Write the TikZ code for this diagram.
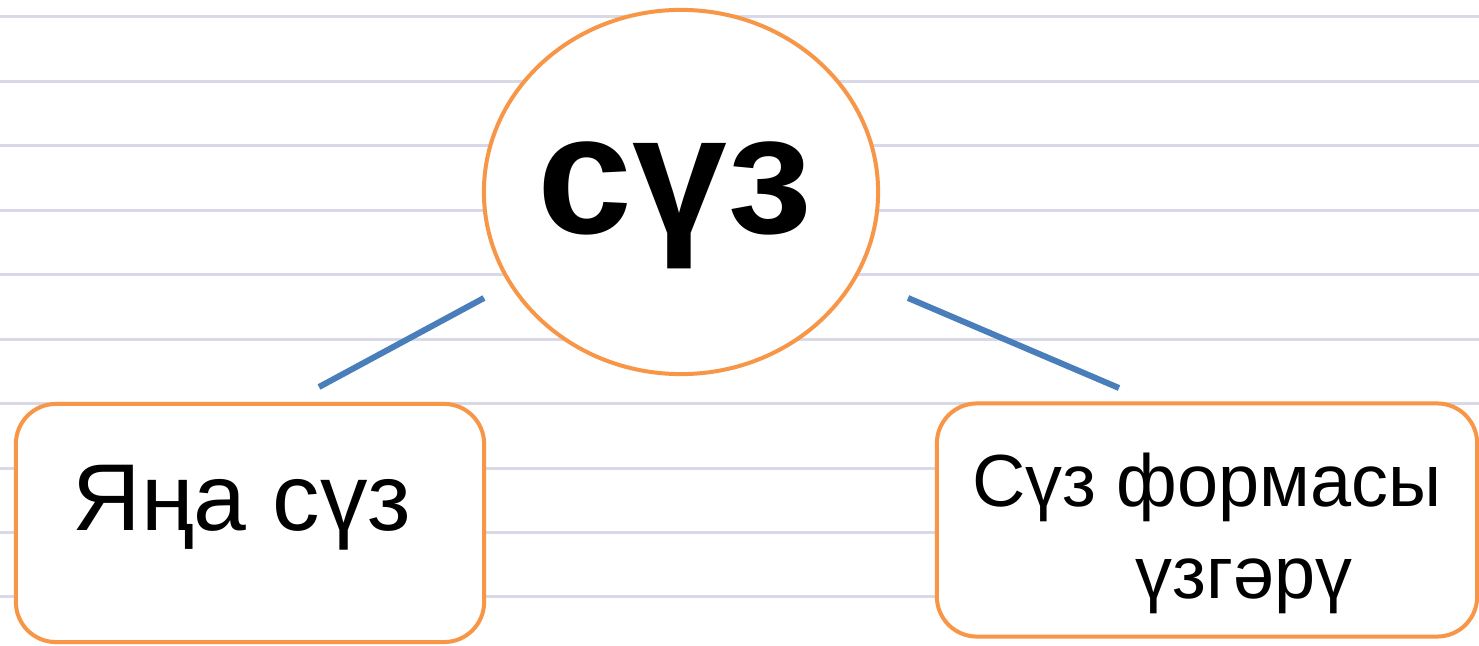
\documentclass[tikz,border=0pt]{standalone}
\usepackage{fontspec}
\setmainfont{Liberation Sans}
\usetikzlibrary{shapes.geometric}
\definecolor{boxorange}{HTML}{F79646}
\definecolor{linkblue}{HTML}{4A7EBB}
\definecolor{ruleline}{HTML}{D9D8E6}

\begin{document}
\begin{tikzpicture}[x=0.01cm,y=-0.01cm,
  wordbox/.style={draw=boxorange,line width=0.04cm,fill=white,rounded corners=0.4cm},
  link/.style={linkblue,line width=0.06cm}]
  \useasboundingbox (0,0) rectangle (1479,646);
  \fill[white] (0,0) rectangle (1479,646);

  % notebook rules
  \foreach \i in {0,...,9}
    \draw[ruleline,line width=0.03cm] (0,17+64.44*\i) -- (1479,17+64.44*\i);

  \node[ellipse,draw=boxorange,line width=0.04cm,fill=white,inner xsep=-0.2cm,inner ysep=0pt,
        minimum width=3.94cm,minimum height=3.64cm,text height=0.96cm,text depth=0.14cm,
        font=\fontsize{48.5}{58}\selectfont\bfseries] (sutz) at (681,192) {сүз\hspace*{0.12cm}};

  \node[wordbox,minimum width=4.68cm,minimum height=2.38cm,text height=0.6cm,text depth=0.46cm,
        font=\fontsize{27}{32}\selectfont] (yana) at (250,523) {Яңа сүз\hspace*{0.16cm}};
  \node[wordbox,minimum width=5.40cm,minimum height=2.33cm,align=center,
        font=\fontsize{21}{26}\selectfont] (forma) at (1207,520) {\rule{0pt}{0.8cm}Сүз формасы\\\hspace*{1em}үзгәрү};

  \coordinate (sutzL) at (484,298);
  \coordinate (sutzR) at (908,298);
  \coordinate (yanaT) at (319,387);
  \coordinate (formaT) at (1119,388);
  \draw[link] (sutzL) -- (yanaT);
  \draw[link] (sutzR) -- (formaT);
\end{tikzpicture}
\end{document}
